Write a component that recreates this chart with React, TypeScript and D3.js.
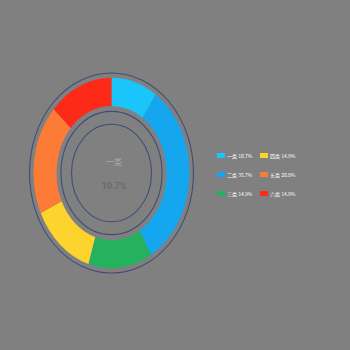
import React, { useEffect } from "react";
import * as d3 from "d3";

const categories = ["一类", "二类", "三类", "四类", "五类", "六类"];
const values = [72, 240, 100, 100, 140, 100];
const percentLabels = ["10.7%", "35.7%", "14.9%", "14.9%", "20.8%", "14.9%"];
const colors = ["#19c5fa", "#14a7ef", "#24b25e", "#fdd42e", "#fc7b37", "#fd2a18"];

export default function App() {
  useEffect(() => {
    document.body.style.margin = "0";
    document.body.style.background = "#808080";
  }, []);
  const W = 350, H = 350;
  const cx = 111.5, cy = 173, sy = 1.22;
  const pie = d3.pie<number>().sort(null).value((d) => d)(values);
  const arc = d3.arc<d3.PieArcDatum<number>>().innerRadius(55).outerRadius(78);
  const stroke = "#3d4d78";
  const legendCols = [217, 260];
  const legendRows = [153, 172, 191];
  return (
    <svg width={W} height={H} style={{ display: "block", background: "#808080" }}>
      <rect width={W} height={H} fill="#808080" />
      <g transform={`translate(${cx},${cy}) scale(1,${sy})`}>
        {pie.map((p, i) => (
          <path key={i} d={arc(p) || ""} fill={colors[i]} />
        ))}
        {[82, 50.5, 40].map((r, i) => (
          <circle key={i} r={r} fill="none" stroke={stroke} strokeWidth={1.1} vectorEffect="non-scaling-stroke" />
        ))}
      </g>
      <text x={114} y={165} textAnchor="middle" fontSize={8} fill="#ababab" fontFamily="Noto Sans CJK SC">
        {categories[0]}
      </text>
      <text x={114} y={188.5} textAnchor="middle" fontSize={9} fill="#6a6a6a" fontFamily="Roboto" fontWeight="bold">
        {percentLabels[0]}
      </text>
      {categories.map((c, i) => {
        const col = Math.floor(i / 3), row = i % 3;
        const x = legendCols[col], y = legendRows[row];
        return (
          <g key={c}>
            <rect x={x} y={y} width={8} height={5} fill={colors[i]} />
            <text x={x + 10} y={y + 4.5} fontSize={5} fill="#ffffff" fontFamily="Noto Sans CJK SC">
              {c} {percentLabels[i]}
            </text>
          </g>
        );
      })}
    </svg>
  );
}
